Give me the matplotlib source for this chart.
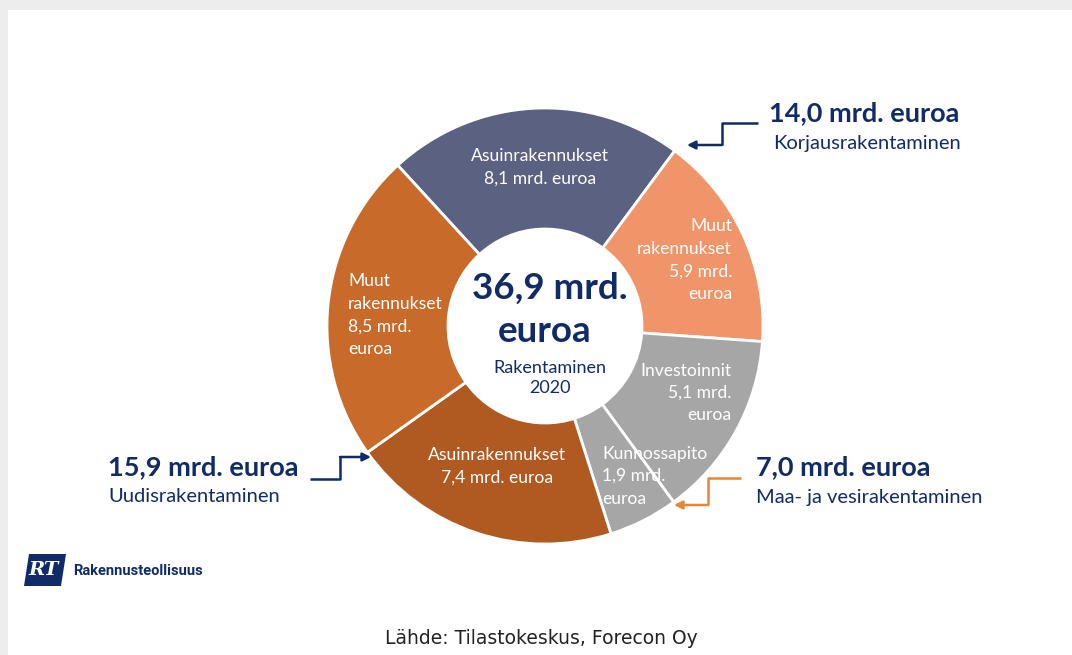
import matplotlib
matplotlib.use('Agg')
import matplotlib.pyplot as plt
from matplotlib.patches import Rectangle, Polygon
import numpy as np

plt.rcParams['font.family'] = ['Lato', 'DejaVu Sans']

# data (mrd. euroa, 2020)
segments = ['Asuinrakennukset', 'Muut rakennukset', 'Investoinnit',
            'Kunnossapito', 'Asuinrakennukset', 'Muut rakennukset']
values = [8.1, 5.9, 5.1, 1.9, 7.4, 8.5]
groups = ['Korjausrakentaminen', 'Korjausrakentaminen', 'Maa- ja vesirakentaminen',
          'Maa- ja vesirakentaminen', 'Uudisrakentaminen', 'Uudisrakentaminen']
colors = ['#5b6181', '#f0956a', '#a6a6a6', '#a6a6a6', '#b05a22', '#c86a29']

navy = '#112b69'
W, H = 1072, 655

def fmt(v):
    return ('%.1f' % v).replace('.', ',')

def Y(py):
    return H - py

fig = plt.figure(figsize=(W / 100, H / 100), dpi=100, facecolor='#ededed')
fig.patches.append(Rectangle((8 / W, 0), 1, 1 - 10 / H, transform=fig.transFigure,
                             facecolor='white', edgecolor='none', zorder=-10))
ax = fig.add_axes([0, 0, 1, 1])
ax.set_facecolor('none')

cx, cy, R, r_in = 545, Y(326), 218, 97
ax.pie(values, colors=colors, startangle=132.5, counterclock=False,
       radius=R, center=(cx, cy),
       wedgeprops=dict(width=R - r_in, edgecolor='white', linewidth=2))
ax.set_xlim(0, W)
ax.set_ylim(0, H)
ax.set_aspect('equal')
ax.axis('off')

# segment labels
lab_kw = dict(color='white', fontsize=12.6, linespacing=1.5)
ax.text(540, Y(167), '%s\n%s mrd. euroa' % (segments[0], fmt(values[0])),
        ha='center', va='center', **lab_kw)
ax.text(732, Y(260), 'Muut\nrakennukset\n%s mrd.\neuroa' % fmt(values[1]),
        ha='right', va='center', multialignment='right', **lab_kw)
ax.text(731, Y(393), '%s\n%s mrd.\neuroa' % (segments[2], fmt(values[2])),
        ha='right', va='center', multialignment='right', **lab_kw)
ax.text(602, Y(476), '%s\n%s mrd.\neuroa' % (segments[3], fmt(values[3])),
        ha='left', va='center', **lab_kw)
ax.text(497, Y(466), '%s\n%s mrd. euroa' % (segments[4], fmt(values[4])),
        ha='center', va='center', **lab_kw)
ax.text(348, Y(315), 'Muut\nrakennukset\n%s mrd.\neuroa' % fmt(values[5]),
        ha='left', va='center', **lab_kw)

# centre
total = sum(values)
ax.text(cx + 5, Y(288), '%s mrd.' % fmt(total), ha='center', va='center',
        fontsize=26.5, fontweight='bold', color=navy)
ax.text(cx, Y(331), 'euroa', ha='center', va='center',
        fontsize=26.5, fontweight='bold', color=navy)
ax.text(cx + 5, Y(378), 'Rakentaminen\n2020', ha='center', va='center',
        fontsize=13, color=navy, linespacing=1.3)

# group totals
korjaus = values[0] + values[1]
maa = values[2] + values[3]
uudis = values[4] + values[5]

ax.text(769, Y(113), '%s mrd. euroa' % fmt(korjaus), ha='left', va='center',
        fontsize=19.5, fontweight='bold', color=navy)
ax.text(773, Y(144), groups[0], ha='left', va='center', fontsize=14.5, color=navy)

ax.text(756, Y(467), '%s mrd. euroa' % fmt(maa), ha='left', va='center',
        fontsize=19.5, fontweight='bold', color=navy)
ax.text(756, Y(497), groups[2], ha='left', va='center', fontsize=14.5, color=navy)

ax.text(298, Y(467), '%s mrd. euroa' % fmt(uudis), ha='right', va='center',
        fontsize=19.5, fontweight='bold', color=navy)
ax.text(108, Y(497), groups[4], ha='left', va='center', fontsize=14.5, color=navy)

# connector arrows
def elbow(pts, color):
    xs = [p[0] for p in pts[:-1]]
    ys = [Y(p[1]) for p in pts[:-1]]
    ax.plot(xs, ys, color=color, lw=1.8, solid_capstyle='butt')
    ax.annotate('', xy=(pts[-1][0], Y(pts[-1][1])),
                xytext=(pts[-2][0], Y(pts[-2][1])),
                arrowprops=dict(arrowstyle='-|>', color=color, lw=1.8,
                                mutation_scale=12, shrinkA=0, shrinkB=0))

elbow([(758, 123), (722, 123), (722, 145), (687, 145)], navy)
elbow([(310, 479), (340, 479), (340, 457), (371, 457)], navy)
elbow([(741, 478), (708, 478), (708, 505), (674, 505)], '#ec8435')

# logo
ax.add_patch(Polygon([(29, Y(554)), (66, Y(554)), (61, Y(586)), (24, Y(586))],
                     closed=True, facecolor=navy, edgecolor='none'))
ax.text(44, Y(570), 'RT', ha='center', va='center', color='white',
        fontsize=14, fontweight='bold', style='italic', family='DejaVu Serif')
ax.text(73, Y(571), 'Rakennusteollisuus', ha='left', va='center', color=navy,
        fontsize=10.5, fontweight='bold', family='Roboto')

# source
ax.text(541, Y(638), 'Lähde: Tilastokeskus, Forecon Oy', ha='center', va='center',
        fontsize=13.5, color='#222222', family='DejaVu Sans')

fig.savefig('out.png', dpi=100, facecolor=fig.get_facecolor())
